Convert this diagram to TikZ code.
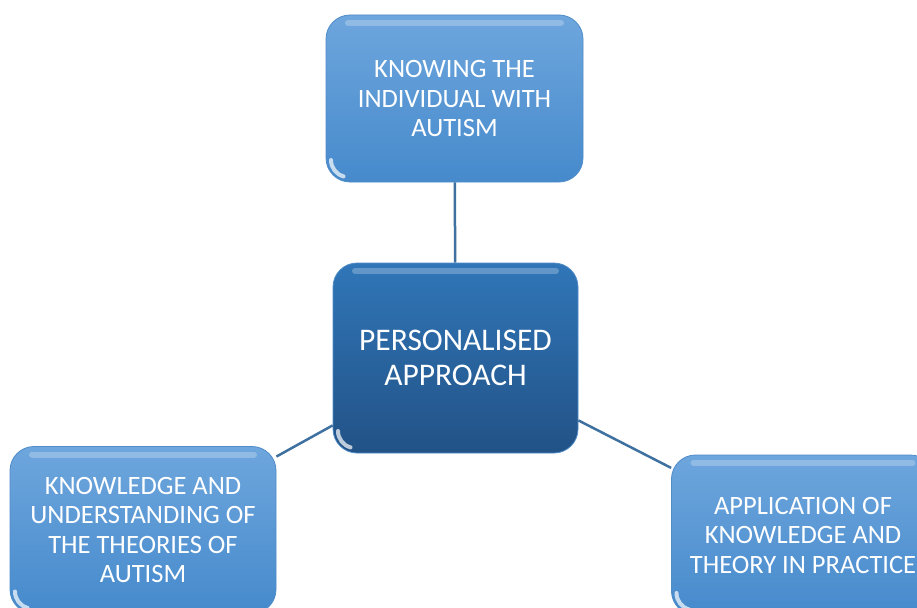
\documentclass[tikz,border=0pt]{standalone}
\usepackage{fontspec}
\setmainfont{Carlito}
\usetikzlibrary{positioning}

\begin{document}
\begin{tikzpicture}[x=1pt,y=-1pt,
   topic/.style={rounded corners=24pt, minimum width=257pt, minimum height=167pt,
      align=center, text=white, font=\fontsize{26.5}{29.5}\selectfont,
      top color=boxtop, bottom color=boxbottom, draw=boxedge, line width=0.8pt,
      path picture={
         \draw[white, opacity=0.25, line width=6pt, line cap=round]
            ([xshift=22pt,yshift=-8pt]path picture bounding box.north west) --
            ([xshift=-22pt,yshift=-8pt]path picture bounding box.north east);
         \draw[white, opacity=0.7, line width=4pt, line cap=round]
            ([xshift=5pt,yshift=22pt]path picture bounding box.south west)
            arc[start angle=180, end angle=255, radius=17pt];}},
   hub/.style={topic, minimum width=245pt, minimum height=190pt,
      font=\fontsize{31.5}{35}\selectfont, top color=hubtop, bottom color=hubbottom},
   link/.style={draw=linkblue, line width=2.5pt}]
   \definecolor{boxtop}{RGB}{110,166,221}
   \definecolor{boxbottom}{RGB}{70,138,204}
   \definecolor{boxedge}{RGB}{80,140,200}
   \definecolor{hubtop}{RGB}{48,118,184}
   \definecolor{hubbottom}{RGB}{34,82,134}
   \definecolor{linkblue}{RGB}{62,112,160}
   \useasboundingbox (0,0) rectangle (917,607);
   \clip (0,0) rectangle (917,607);
   % the four boxes
   \node[topic] (knowing) at (454.5,98.5) {KNOWING THE\\INDIVIDUAL WITH\\AUTISM};
   \node[hub] (approach) at (455.5,358) {PERSONALISED\\APPROACH};
   \node[topic, minimum width=266pt] (theories) at (143,530) {KNOWLEDGE AND\\UNDERSTANDING OF\\THE THEORIES OF\\AUTISM};
   \node[topic, minimum width=263pt, minimum height=160pt] (practice) at (803,535) {APPLICATION OF\\KNOWLEDGE AND\\THEORY IN PRACTICE};
   % links to the centre
   \draw[link] (knowing) -- (approach);
   \draw[link] (theories) -- (approach);
   \draw[link] (practice) -- (approach);
\end{tikzpicture}
\end{document}
